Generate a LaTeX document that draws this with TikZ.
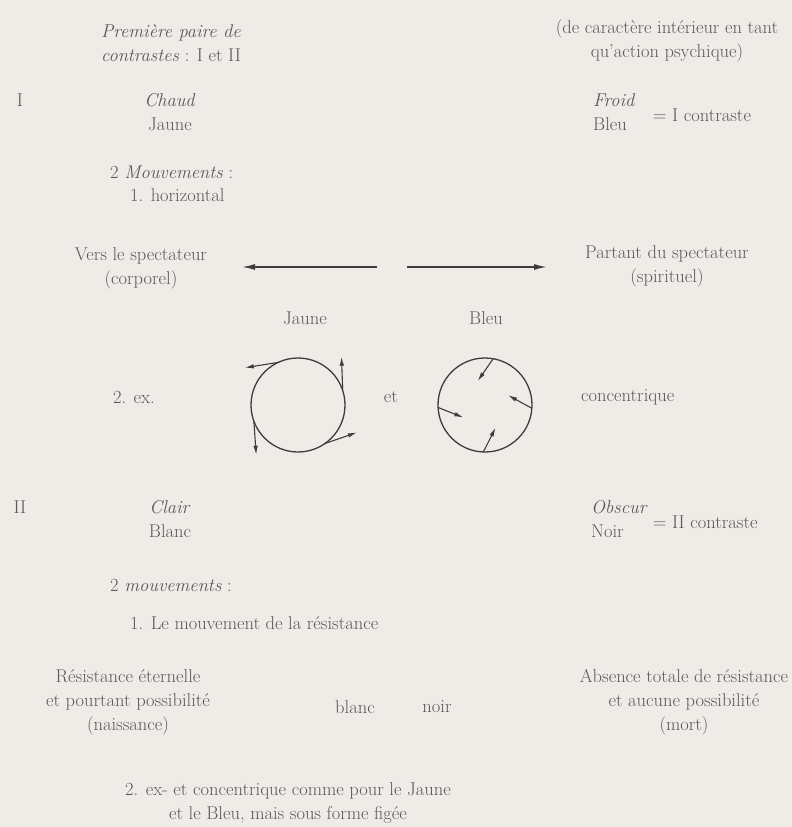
\documentclass[tikz,border=0pt]{standalone}
\usepackage{fontspec}
\usetikzlibrary{arrows.meta,calc}

\definecolor{paper}{RGB}{239,235,230}
\definecolor{ink}{RGB}{92,88,86}
\definecolor{stroke}{RGB}{62,60,60}

\begin{document}
\begin{tikzpicture}[
  x=1pt,y=1pt,
  label/.style={font={\fontsize{18.5}{24}\selectfont},text=ink,inner sep=0pt,align=center},
  lead/.style={label,anchor=west,align=left},
  axis/.style={draw=stroke,line width=1.6pt,-{Latex[length=13pt,width=6pt]}},
  ring/.style={draw=stroke,line width=1.3pt},
  flow/.style={draw=stroke,line width=1.1pt,-{Latex[length=9pt,width=4.5pt]}},
]

\fill[paper] (0,0) rectangle (792,-827);
\useasboundingbox (0,0) rectangle (792,-827);

% heading
\node[label] (pair) at (171,-43) {\textit{Première paire de}\\\textit{contrastes} : I et II};
\node[label] (psych) at (667,-41) {(de caractère intérieur en tant\\qu'action psychique)};

% first contrast
\node[label] (numI) at (20,-100) {I};
\node[label] (chaud) at (170,-112) {\textit{Chaud}\\Jaune};
\node[lead] (froid) at (593,-112) {\textit{Froid}\\Bleu};
\node[lead] (contrI) at (653,-115) {= I contraste};

\node[lead] (mvt) at (110,-172) {2 \textit{Mouvements} :};
\node[lead] (horiz) at (130,-195) {1. horizontal};

\node[label] (vers) at (141,-268) {Vers le spectateur\\(corporel)};
\node[label] (partant) at (667,-266) {Partant du spectateur\\(spirituel)};
\coordinate (la) at (377,-267);
\coordinate (lb) at (242,-267);
\coordinate (ra) at (407,-267);
\coordinate (rb) at (547,-267);
\draw[axis] (la) -- (lb);
\draw[axis] (ra) -- (rb);

\node[label] (jaune) at (305,-318) {Jaune};
\node[label] (bleu) at (486,-318) {Bleu};
\node[label] (ex) at (134,-397) {2. ex.};
\node[label] (et) at (391,-397) {et};
\node[lead] (conc) at (581,-397) {concentrique};

% ex- and concentric circles
\coordinate (jc) at (298,-405);
\coordinate (bc) at (485,-405);
\draw[ring] (jc) circle (47);
\draw[ring] (bc) circle (47);
\foreach \a in {18,115,200,305}
  \draw[flow] ($(jc)+(\a:47)$) -- ($(jc)+(\a+30:65)$);
\foreach \a in {80,-4,268,183}
  \draw[flow] ($(bc)+(\a:47)$) -- ($(bc)+(\a+27:25)$);

% second contrast
\node[label] (numII) at (20,-507) {II};
\node[label] (clair) at (170,-519) {\textit{Clair}\\Blanc};
\node[lead] (obscur) at (591,-519) {\textit{Obscur}\\Noir};
\node[lead] (contrII) at (653,-522) {= II contraste};

\node[lead] (mvt2) at (110,-585) {2 \textit{mouvements} :};
\node[lead] (resist) at (130,-623) {1. Le mouvement de la résistance};

\node[label] (naiss) at (128,-702) {Résistance éternelle\\et pourtant possibilité\\(naissance)};
\node[label] (blanc) at (355,-707) {blanc};
\node[label] (noir) at (437,-707) {noir};
\node[label] (mort) at (684,-702) {Absence totale de résistance\\et aucune possibilité\\(mort)};

\node[label] (fige) at (288,-803) {2. ex- et concentrique comme pour le Jaune\\et le Bleu, mais sous forme figée};

\end{tikzpicture}
\end{document}
